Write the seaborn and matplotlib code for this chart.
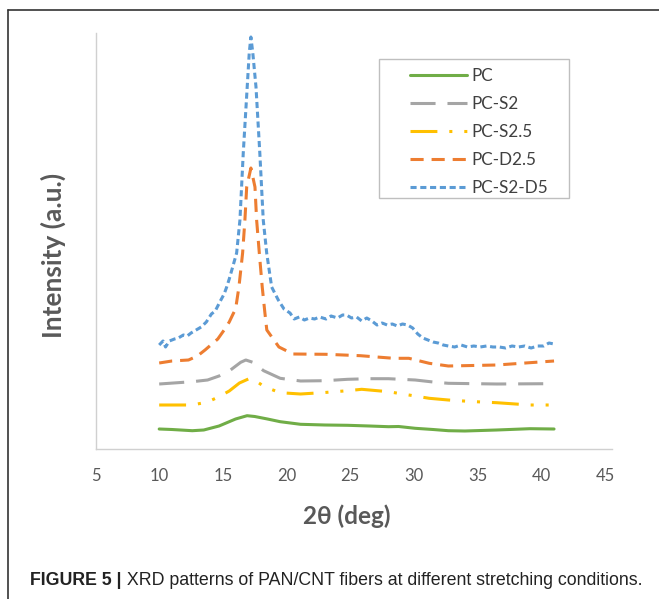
import numpy as np
import pandas as pd
import matplotlib
matplotlib.use('Agg')
import matplotlib.pyplot as plt
from matplotlib.lines import Line2D
from matplotlib.patches import Rectangle
import seaborn as sns

# XRD curves (2theta in deg, intensity in a.u.)
pc_x = [10, 11, 12.6, 13.5, 14.7, 16, 16.9, 17.5, 18.5, 19.5, 21.1, 23, 24.8,
        26.5, 28, 28.8, 30.1, 31.5, 32.7, 34, 36.5, 39.1, 41]
pc_y = [20, 19.5, 18.3, 19, 23, 30, 33.3, 32.5, 30, 27.3, 24.7, 24, 23.7,
        23, 22.3, 22.5, 20.7, 19.5, 18.3, 18, 19, 20.3, 20]

s2_x = [10, 12.6, 13.8, 14.7, 15.6, 16.4, 16.8, 17.35, 18.2, 19.5, 21.1, 23,
        24.8, 26.5, 28, 30.1, 31.5, 32.7, 36.5, 40.5]
s2_y = [65, 67.3, 69, 73, 79, 86.7, 89, 86.7, 78.3, 70.7, 68, 68.3,
        69.7, 70.3, 70.3, 69, 67, 65.7, 65, 65.3]

s25_x = [10, 12.6, 13.8, 14.7, 15.5, 16.3, 17.0, 17.35, 18.3, 19.5, 21.1, 23,
         24.8, 25.9, 28, 29.6, 31.2, 32.7, 34.5, 36.5, 39.1, 41]
s25_y = [44, 44, 47, 52.3, 58, 66, 70, 70, 62, 56.3, 55, 56.5,
         58.3, 59.7, 57.3, 54, 50.7, 49, 47.5, 46.3, 44, 44]

d25_x = [10, 11, 12.3, 13, 13.6, 14.6, 15.1, 15.5, 15.8, 16.0, 16.26, 16.55,
         16.73, 16.87, 17.2, 17.52, 17.65, 17.86, 18.09, 18.3, 18.45, 19.4,
         20.5, 23.1, 25.8, 28.4, 29.6, 31.2, 32.7, 36.5, 41]
d25_y = [86, 88, 89, 93, 99, 110, 119, 127, 135, 140, 162, 196,
         229, 262, 281, 262, 229, 196, 162, 136, 119, 102,
         95, 94.7, 93.3, 90.7, 90.7, 85.7, 83, 84, 88]

s2d5_x = [10.0, 10.3, 10.5, 10.8, 11.2, 11.5, 11.9, 12.2, 12.5, 12.9, 13.3,
          13.7, 14.1, 14.4, 14.8, 15.1, 15.3, 15.5, 15.77, 16.08, 16.34, 16.6,
          16.91, 17.07, 17.2, 17.35, 17.6, 17.9, 18.17, 18.44, 18.83, 19.35,
          19.8, 20.27, 20.6, 21.0, 21.4, 21.8, 22.2, 22.6, 23.1, 23.5, 24.0,
          24.4, 24.7, 25.1, 25.5, 25.9, 26.3, 26.7, 27.1, 27.5, 27.9, 28.3,
          28.7, 29.1, 29.5, 29.9, 30.3, 30.7, 31.1, 31.5, 31.9, 32.3, 32.7,
          33.2, 33.7, 34.2, 34.7, 35.2, 35.7, 36.2, 36.7, 37.2, 37.7, 38.2,
          38.7, 39.2, 39.7, 40.2, 40.6, 41.0]
s2d5_y = [104, 108, 102, 108, 110, 111, 114, 113, 116, 119, 122,
          127, 135, 138, 148, 155, 162, 170, 182, 196, 229, 296,
          362, 396, 412, 396, 362, 296, 229, 196, 162, 149,
          140, 136, 130, 132, 129, 131, 130, 132, 130, 133, 131,
          134, 134, 131, 132, 128, 131, 128, 124, 126, 124, 125,
          123, 125, 124, 121, 115, 111, 109, 107, 106, 104, 103,
          102, 104, 102, 103, 102, 103, 102, 102, 101, 103, 102,
          103, 101, 103, 103, 106, 105]

names = ['PC', 'PC-S2', 'PC-S2.5', 'PC-D2.5', 'PC-S2-D5']
colors = ['#70AD47', '#A5A5A5', '#FFC000', '#ED7D31', '#5B9BD5']
x_ticks = [5, 10, 15, 20, 25, 30, 35, 40, 45]

frames = []
for name, xs, ys in zip(names, [pc_x, s2_x, s25_x, d25_x, s2d5_x],
                        [pc_y, s2_y, s25_y, d25_y, s2d5_y]):
    frames.append(pd.DataFrame({'two_theta': xs, 'intensity': ys, 'sample': name}))
df = pd.concat(frames, ignore_index=True)

dashes = {
    'PC': '',
    'PC-S2': (8.2, 3.9),
    'PC-S2.5': (8.8, 3.9, 1.0, 3.9, 1.0, 3.9),
    'PC-D2.5': (4.3, 2.6),
    'PC-S2-D5': (2.0, 1.2),
}

sns.set_style('white')
plt.rcParams['font.family'] = ['Lato', 'DejaVu Sans']

W, H = 659, 599
fig = plt.figure(figsize=(W / 100, H / 100), dpi=100)
ax = fig.add_axes([95.5 / W, 1 - 449 / H, (612 - 95.5) / W, (449 - 33) / H])

sns.lineplot(data=df, x='two_theta', y='intensity', hue='sample', style='sample',
             hue_order=names, style_order=names, palette=dict(zip(names, colors)),
             dashes=dashes, linewidth=2.2, estimator=None, sort=True, ax=ax)

ax.set_xlim(5, 45.55)
ax.set_ylim(0, 416)
ax.set_xticks(x_ticks)
ax.set_yticks([])
ax.set_xlabel('')
ax.set_ylabel('')
ax.tick_params(axis='x', length=0, pad=14, labelsize=12, labelcolor='#595959')
for side in ['top', 'right']:
    ax.spines[side].set_visible(False)
for side in ['left', 'bottom']:
    ax.spines[side].set_color('#D0D0D0')
    ax.spines[side].set_linewidth(1.0)

handles, labels = ax.get_legend_handles_labels()
leg = ax.legend(handles, labels, loc='upper left',
                bbox_to_anchor=(410 / W, 1 - 68 / H), bbox_transform=fig.transFigure,
                fontsize=12.3, handlelength=3.33, handletextpad=0.29, labelspacing=0.7,
                borderpad=0, borderaxespad=0, frameon=False)
for t in leg.get_texts():
    t.set_color('#404040')
fig.add_artist(Rectangle((379 / W, 1 - 198 / H), (569 - 379) / W, (198 - 59) / H,
                         transform=fig.transFigure, fill=False,
                         edgecolor='#BFBFBF', linewidth=1.0))

fig.text(53 / W, 1 - 255 / H, 'Intensity (a.u.)', rotation=90, ha='center', va='center',
         fontsize=19, fontweight='bold', color='#595959')
fig.text(347 / W, 1 - 516 / H, '2θ (deg)', ha='center', va='center',
         fontsize=17.5, fontweight='bold', color='#595959')

# caption
cap1 = fig.text(30 / W, 1 - 585 / H, 'FIGURE 5 |', ha='left', va='baseline',
                fontsize=12.8, fontweight='bold', color='#222222', family='Liberation Sans')
ax.annotate(' XRD patterns of PAN/CNT fibers at different stretching conditions.',
            xy=(1, 0), xycoords=cap1, ha='left', va='bottom',
            fontsize=12.8, color='#222222', family='Liberation Sans', annotation_clip=False)

# outer frame lines (top and left)
fig.add_artist(Line2D([8 / W, 1], [1 - 10 / H, 1 - 10 / H], transform=fig.transFigure,
                      color='#333333', linewidth=1.2))
fig.add_artist(Line2D([8 / W, 8 / W], [0, 1 - 10 / H], transform=fig.transFigure,
                      color='#333333', linewidth=1.2))

fig.savefig('out.png', dpi=100)
